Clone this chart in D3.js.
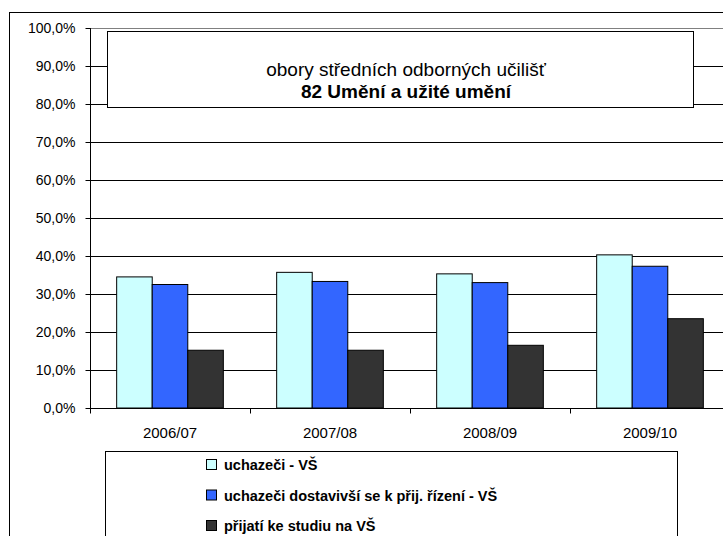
<!DOCTYPE html>
<html>
<head>
<meta charset="utf-8">
<script src="https://cdn.jsdelivr.net/npm/d3@7"></script>
<style>
  body { margin: 0; background: #fff; }
  text { font-family: Arial, "Liberation Sans", sans-serif; fill: #000; }
</style>
</head>
<body>
<div id="chart"></div>
<script>
// data
const years = ["2006/07", "2007/08", "2008/09", "2009/10"];
const seriesNames = ["uchazeči - VŠ", "uchazeči dostavivší se k přij. řízení - VŠ", "přijatí ke studiu na VŠ"];
const applicants = [34.5, 35.7, 35.3, 40.3];
const attended = [32.5, 33.3, 33.0, 37.3];
const admitted = [15.2, 15.2, 16.5, 23.5];
const yTicks = [0, 10, 20, 30, 40, 50, 60, 70, 80, 90, 100];
const colors = ["#CCFFFF", "#3366FF", "#333333"];

const series = [applicants, attended, admitted];

const W = 723, H = 536;
const svg = d3.select("#chart").append("svg")
    .attr("width", W)
    .attr("height", H);

// outer chart frame (cut off at right and bottom like the original)
svg.append("rect")
    .attr("x", 9.5).attr("y", 12.5)
    .attr("width", 740).attr("height", 560)
    .attr("fill", "none").attr("stroke", "#000");

const plot = { left: 90, right: 730, top: 28, bottom: 408 };

const x = d3.scaleBand()
    .domain(years)
    .range([plot.left, plot.right]);

const y = d3.scaleLinear()
    .domain([0, 100])
    .range([plot.bottom, plot.top]);

const xs = d3.scaleBand()
    .domain(d3.range(series.length))
    .range([0, x.bandwidth()])
    .paddingOuter(0.75)
    .paddingInner(0);

// gridlines
svg.append("g")
  .selectAll("line")
  .data(yTicks.filter(d => d > 0))
  .enter().append("line")
    .attr("x1", plot.left).attr("x2", W)
    .attr("y1", d => Math.round(y(d)) + 0.5)
    .attr("y2", d => Math.round(y(d)) + 0.5)
    .attr("stroke", d => d === 100 ? "#808080" : "#000")
    .attr("stroke-width", 1);

// bars
years.forEach((yr, i) => {
  svg.append("g")
    .selectAll("rect")
    .data(series.map((s, k) => ({ k: k, v: s[i] })))
    .enter().append("rect")
      .attr("x", d => x(yr) + xs(d.k))
      .attr("y", d => y(d.v))
      .attr("width", xs.bandwidth())
      .attr("height", d => plot.bottom - y(d.v))
      .attr("fill", d => colors[d.k])
      .attr("stroke", "#000")
      .attr("stroke-width", 1);
});

// y axis
const yAxis = svg.append("g")
    .attr("transform", "translate(" + (plot.left + 0.5) + ",0)")
    .call(d3.axisLeft(y).tickValues(yTicks).tickSize(5).tickPadding(10)
      .tickFormat(d => d.toFixed(1).replace(".", ",") + "%"));
yAxis.attr("font-size", null).attr("font-family", null);
yAxis.select(".domain").attr("stroke", "#000").attr("d", "M0," + plot.top + "V" + plot.bottom);
yAxis.selectAll(".tick line").attr("stroke", "#000");
yAxis.selectAll("text").style("font-size", "14px");

// x axis
const xAxis = svg.append("g")
    .attr("transform", "translate(0," + (plot.bottom + 0.5) + ")");
xAxis.append("line")
    .attr("x1", plot.left).attr("x2", W)
    .attr("stroke", "#000");
xAxis.selectAll(".xt")
  .data(years.concat(["end"]))
  .enter().append("line")
    .attr("x1", (d, i) => plot.left + i * x.bandwidth() + 0.5)
    .attr("x2", (d, i) => plot.left + i * x.bandwidth() + 0.5)
    .attr("y1", 0).attr("y2", 5)
    .attr("stroke", "#000");
xAxis.selectAll("text")
  .data(years)
  .enter().append("text")
    .attr("x", d => x(d) + x.bandwidth() / 2)
    .attr("y", 29)
    .attr("text-anchor", "middle")
    .style("font-size", "15px")
    .text(d => d);

// title box
svg.append("rect")
    .attr("x", 107.5).attr("y", 31.5)
    .attr("width", 586).attr("height", 76)
    .attr("fill", "#fff").attr("stroke", "#000");
svg.append("text")
    .attr("x", 406).attr("y", 76)
    .attr("text-anchor", "middle")
    .style("font-size", "19px")
    .text("obory středních odborných učilišť");
svg.append("text")
    .attr("x", 406).attr("y", 98)
    .attr("text-anchor", "middle")
    .style("font-size", "19px")
    .style("font-weight", "bold")
    .text("82 Umění a užité umění");

// legend
svg.append("rect")
    .attr("x", 105.5).attr("y", 451.5)
    .attr("width", 572).attr("height", 120)
    .attr("fill", "#fff").attr("stroke", "#000");
const leg = svg.append("g")
  .selectAll("g")
  .data(seriesNames)
  .enter().append("g")
    .attr("transform", (d, i) => "translate(206," + (465 + i * 30.5) + ")");
leg.append("rect")
    .attr("x", 0.5).attr("y", -5.5)
    .attr("width", 10).attr("height", 10)
    .attr("fill", (d, i) => colors[i])
    .attr("stroke", "#000");
leg.append("text")
    .attr("x", 18).attr("y", 5)
    .style("font-size", "14.5px")
    .style("font-weight", "bold")
    .text(d => d);
</script>
</body>
</html>
